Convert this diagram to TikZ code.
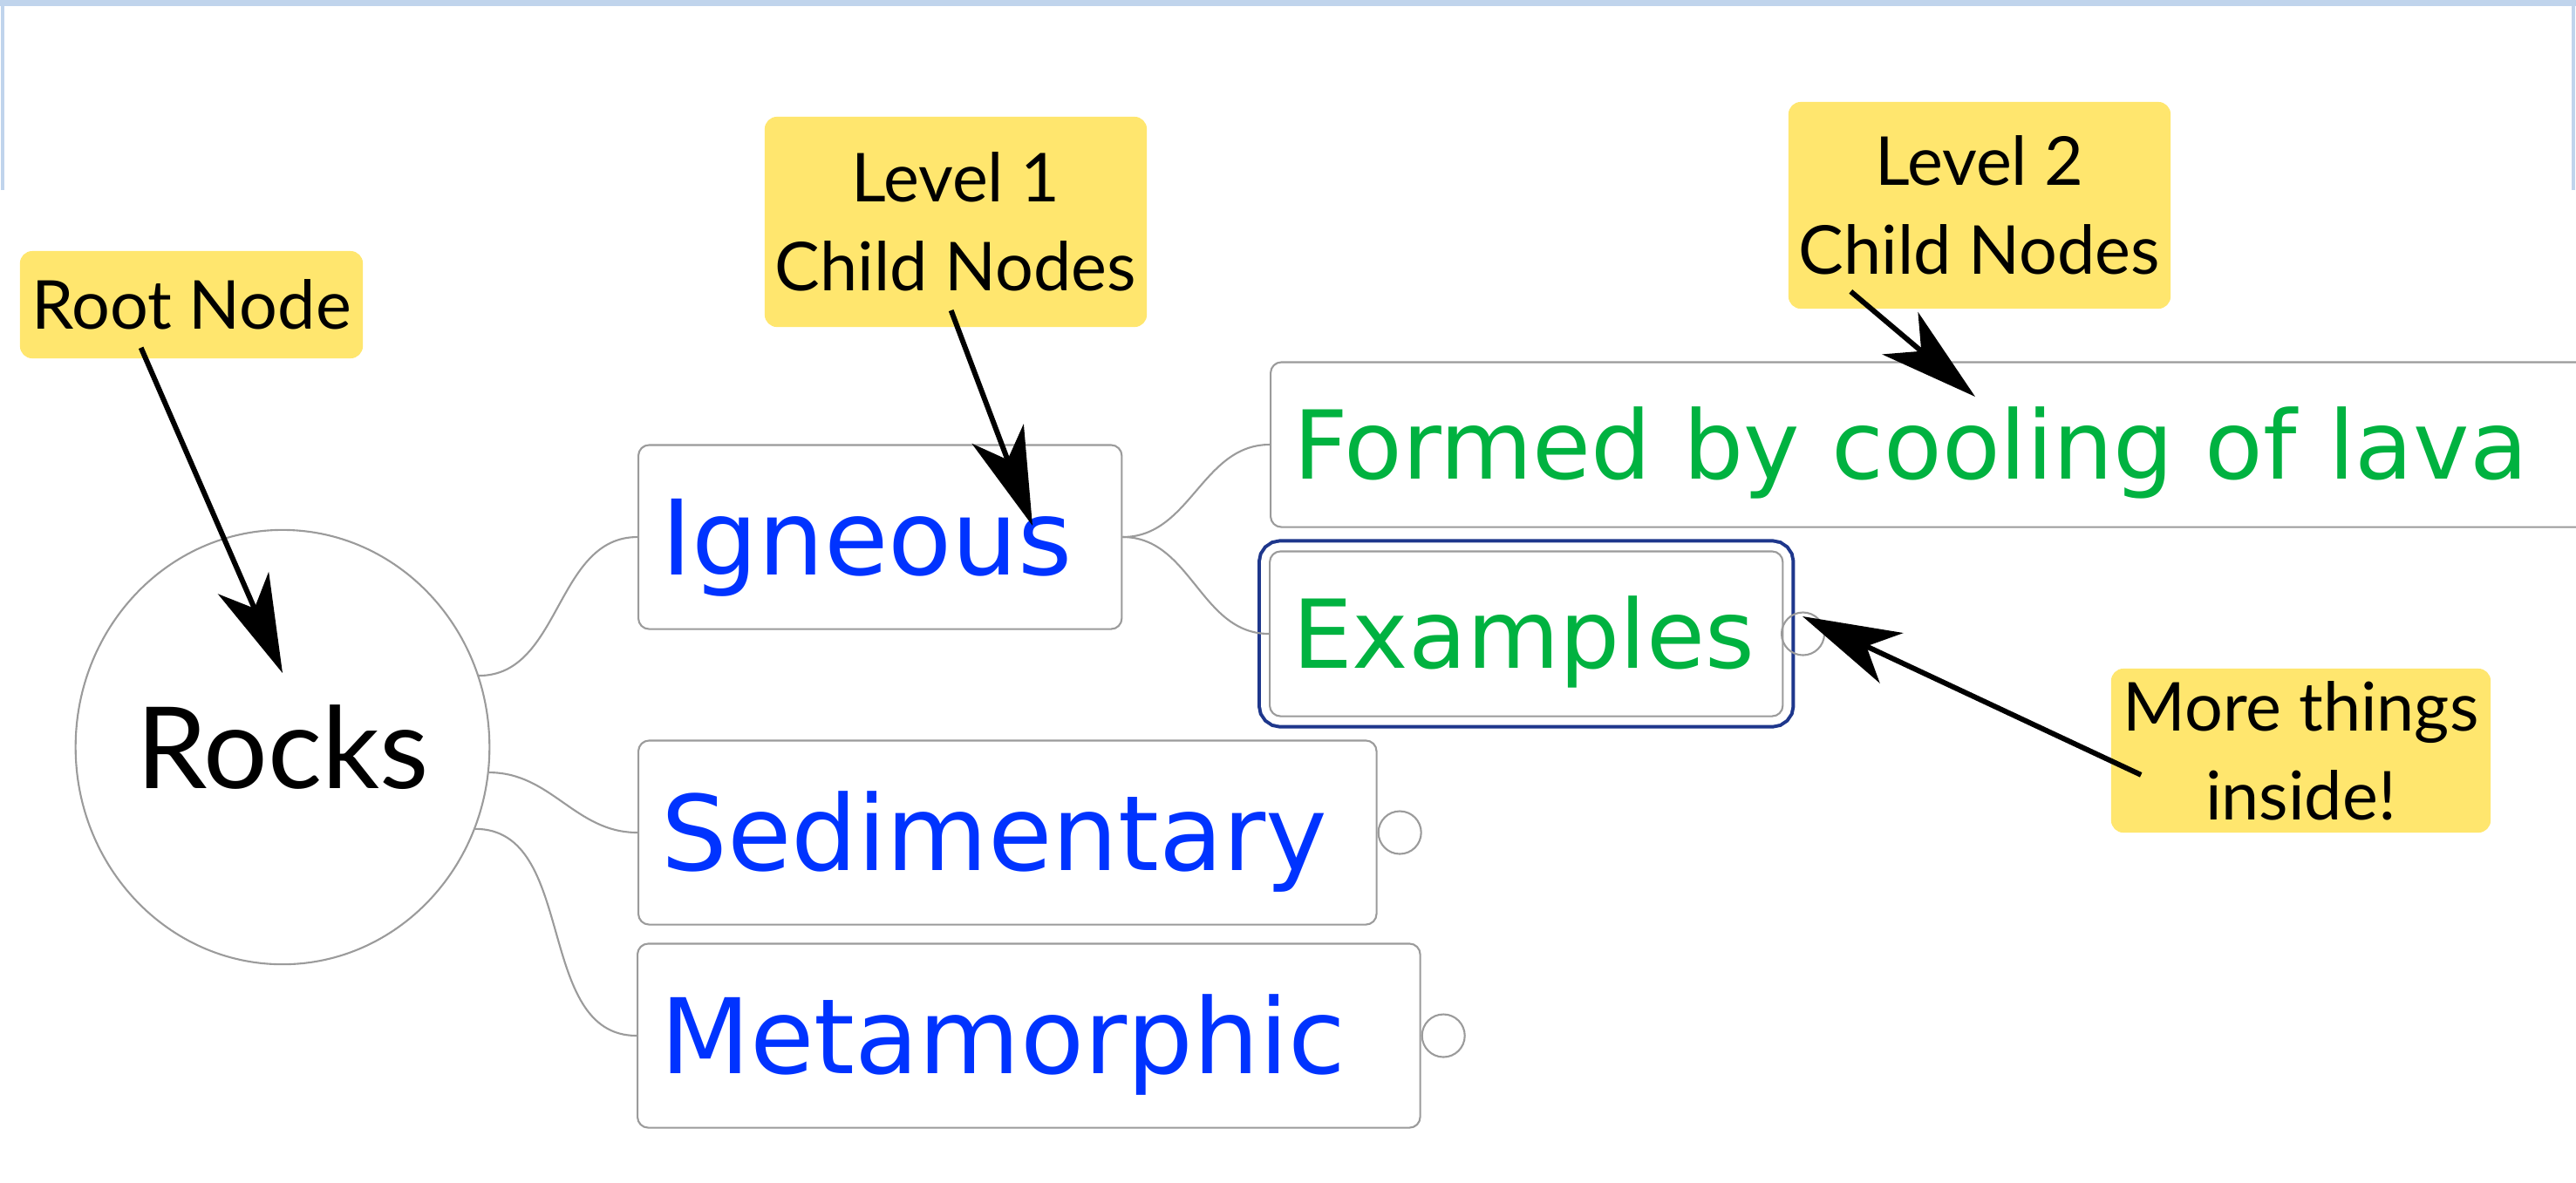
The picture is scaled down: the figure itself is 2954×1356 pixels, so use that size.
\documentclass[tikz,border=0pt]{standalone}
\usepackage{fontspec}
\usetikzlibrary{arrows.meta,positioning,shapes.geometric}
\newfontfamily\notefont{Lato}
\newfontfamily\boxfont{DejaVu Sans}
\definecolor{notey}{RGB}{255,230,110}
\definecolor{nodeblue}{RGB}{0,51,255}
\definecolor{leafgreen}{RGB}{0,178,64}
\definecolor{selblue}{RGB}{30,55,140}
\definecolor{linegray}{RGB}{155,155,155}
\definecolor{frameblue}{RGB}{192,212,236}

\begin{document}
\begin{tikzpicture}[x=0.01cm, y=-0.01cm, >={Stealth[length=32pt,width=18pt,inset=9pt]}]
            \tikzset{rootnode/.style = {shape=ellipse, draw=linegray, line width=0.6pt, fill=white, minimum width=4.72cm, minimum height=4.98cm, inner sep=0pt, font=\notefont\fontsize{37}{44}\selectfont}}
            \tikzset{level1/.style = {shape=rectangle, rounded corners=3.5pt, draw=linegray, line width=0.6pt, fill=white, minimum height=2.11cm, inner xsep=0.26cm, align=left, anchor=west, text height=24.8pt, text depth=0pt, text=nodeblue, font=\boxfont\fontsize{34}{40}\selectfont}}
            \tikzset{level2/.style = {level1, minimum height=1.89cm, text height=22.6pt, text=leafgreen, font=\boxfont\fontsize{31}{37}\selectfont}}
            \tikzset{selected/.style = {preaction={draw=selblue, line width=0.28cm}, preaction={draw=white, line width=0.20cm}}}
            \tikzset{note/.style = {fill=notey, rounded corners=4pt, align=center, inner sep=0pt, font=\notefont\fontsize{22}{29}\selectfont}}
            \tikzset{knob/.style = {shape=circle, draw=linegray, line width=0.6pt, minimum size=0.49cm, inner sep=0pt}}
            \tikzset{conn/.style = {draw=linegray, line width=0.6pt}}
            \tikzset{pointer/.style = {->, line width=1.7pt}}

            \useasboundingbox (0,0) rectangle (2954,1356);

            % window frame
            \fill[frameblue] (0,0) rectangle (2954,7);
            \draw[frameblue, line width=1.4pt] (3,0) -- (3,218) (2951,0) -- (2951,218);

            \node[rootnode] (rocks) at (324,857) {Rocks};

            \node[level1, text width=5.02cm] (ign) at (731,616) {Igneous};
            \node[level1, text width=7.94cm] (sed) at (731,955) {Sedimentary};
            \node[level1, text width=8.45cm] (met) at (730,1188) {Metamorphic};

            \node[level2, text width=15.0cm] (lava) at (1456,510) {Formed by cooling of lava};
            \node[level2, selected, text width=5.36cm] (ex) at (1455,727) {Examples};

            \node[knob, fill=white, right=0pt of sed] (sedk) {};
            \node[knob, fill=white, right=0pt of met] (metk) {};
            \node[knob, right=-1pt of ex] (exk) {};

            \draw[conn] (rocks.20) to[out=0, in=180] (ign.west);
            \draw[conn] (rocks.-7) to[out=0, in=180] (sed.west);
            \draw[conn] (rocks.-23) to[out=0, in=180] (met.west);
            \draw[conn] (ign.east) to[out=0, in=180] (lava.west);
            \draw[conn] (ign.east) to[out=0, in=180] (ex.west);

            % call-outs
            \node[note, minimum width=3.93cm, minimum height=1.23cm] (rootlbl) at (219.5,349.5) {Root Node};
            \node[note, minimum width=4.38cm, minimum height=2.41cm] (l1lbl) at (1096,254.5) {Level 1\\Child Nodes};
            \node[note, minimum width=4.38cm, minimum height=2.37cm] (l2lbl) at (2270,235.5) {Level 2\\Child Nodes};
            \node[note, minimum width=4.35cm, minimum height=1.88cm] (morelbl) at (2638.5,861) {More things\\inside!};

            \coordinate (rtip) at (324,772);
            \coordinate (l1tip) at (1184,603);
            \coordinate (l2tip) at (2265,455);
            \coordinate (moretip) at (2067,707);

            \draw[pointer, shorten <=-4pt] (rootlbl.230.4) -- (rtip);
            \draw[pointer, shorten <=-6pt] (l1lbl.271.6) -- (l1tip);
            \draw[pointer, shorten <=-9pt] (l2lbl.224.5) -- (l2tip);
            \draw[pointer, shorten <=-11pt] (morelbl.183.4) -- (moretip);
        \end{tikzpicture}
\end{document}
